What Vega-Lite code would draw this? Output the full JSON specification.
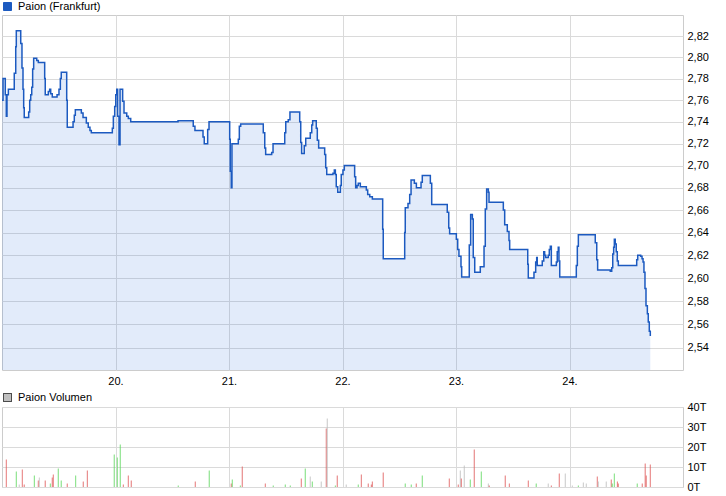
{
  "$schema": "https://vega.github.io/schema/vega-lite/v6.json",
  "background": "white",
  "padding": {"left": -2, "top": 0, "right": 0, "bottom": 0},
  "config": {
    "font": "Liberation Sans",
    "view": {"stroke": "#cccccc", "strokeWidth": 1},
    "axis": {
      "gridColor": "#dadada",
      "gridWidth": 1,
      "domain": false,
      "ticks": false,
      "labelFont": "Liberation Sans",
      "labelFontSize": 11,
      "labelColor": "#000000",
      "title": null
    },
    "legend": {
      "orient": "top",
      "title": null,
      "padding": 0,
      "offset": 2,
      "symbolType": "square",
      "symbolSize": 64,
      "symbolStrokeWidth": 1,
      "labelFont": "Liberation Sans",
      "labelFontSize": 11,
      "labelColor": "#000000",
      "labelOffset": 5
    },
    "concat": {"spacing": 4}
  },
  "datasets": {
    "price": [
      {"t": 19.000, "p": 2.760}, {"t": 19.009, "p": 2.780}, {"t": 19.029, "p": 2.765}, {"t": 19.038, "p": 2.745},
      {"t": 19.044, "p": 2.765}, {"t": 19.056, "p": 2.770}, {"t": 19.108, "p": 2.785}, {"t": 19.121, "p": 2.810},
      {"t": 19.126, "p": 2.825}, {"t": 19.165, "p": 2.813}, {"t": 19.176, "p": 2.790}, {"t": 19.185, "p": 2.770},
      {"t": 19.191, "p": 2.753}, {"t": 19.196, "p": 2.744}, {"t": 19.235, "p": 2.749}, {"t": 19.244, "p": 2.760},
      {"t": 19.253, "p": 2.765}, {"t": 19.262, "p": 2.772}, {"t": 19.270, "p": 2.789}, {"t": 19.279, "p": 2.799},
      {"t": 19.306, "p": 2.797}, {"t": 19.320, "p": 2.795}, {"t": 19.376, "p": 2.780}, {"t": 19.381, "p": 2.765},
      {"t": 19.408, "p": 2.768}, {"t": 19.420, "p": 2.770}, {"t": 19.429, "p": 2.766}, {"t": 19.443, "p": 2.763},
      {"t": 19.485, "p": 2.765}, {"t": 19.502, "p": 2.770}, {"t": 19.514, "p": 2.780}, {"t": 19.522, "p": 2.786},
      {"t": 19.570, "p": 2.760}, {"t": 19.575, "p": 2.735}, {"t": 19.626, "p": 2.740}, {"t": 19.637, "p": 2.746},
      {"t": 19.646, "p": 2.751}, {"t": 19.699, "p": 2.748}, {"t": 19.714, "p": 2.744}, {"t": 19.743, "p": 2.739},
      {"t": 19.760, "p": 2.735}, {"t": 19.775, "p": 2.732}, {"t": 19.787, "p": 2.730}, {"t": 19.972, "p": 2.734},
      {"t": 19.981, "p": 2.745}, {"t": 19.993, "p": 2.754}, {"t": 20.002, "p": 2.765}, {"t": 20.011, "p": 2.770},
      {"t": 20.019, "p": 2.745}, {"t": 20.031, "p": 2.719}, {"t": 20.040, "p": 2.770}, {"t": 20.063, "p": 2.759},
      {"t": 20.075, "p": 2.748}, {"t": 20.099, "p": 2.745}, {"t": 20.113, "p": 2.743}, {"t": 20.134, "p": 2.740},
      {"t": 20.551, "p": 2.741}, {"t": 20.685, "p": 2.736}, {"t": 20.700, "p": 2.732}, {"t": 20.771, "p": 2.726},
      {"t": 20.782, "p": 2.720}, {"t": 20.812, "p": 2.733}, {"t": 20.824, "p": 2.740}, {"t": 21.006, "p": 2.724},
      {"t": 21.011, "p": 2.695}, {"t": 21.020, "p": 2.680}, {"t": 21.026, "p": 2.720}, {"t": 21.082, "p": 2.724},
      {"t": 21.091, "p": 2.736}, {"t": 21.103, "p": 2.738}, {"t": 21.302, "p": 2.730}, {"t": 21.315, "p": 2.716},
      {"t": 21.323, "p": 2.710}, {"t": 21.376, "p": 2.712}, {"t": 21.388, "p": 2.720}, {"t": 21.491, "p": 2.730},
      {"t": 21.500, "p": 2.740}, {"t": 21.522, "p": 2.742}, {"t": 21.537, "p": 2.749}, {"t": 21.623, "p": 2.740},
      {"t": 21.632, "p": 2.721}, {"t": 21.640, "p": 2.711}, {"t": 21.663, "p": 2.718}, {"t": 21.676, "p": 2.725},
      {"t": 21.716, "p": 2.730}, {"t": 21.729, "p": 2.737}, {"t": 21.737, "p": 2.741}, {"t": 21.769, "p": 2.734},
      {"t": 21.778, "p": 2.723}, {"t": 21.790, "p": 2.716}, {"t": 21.843, "p": 2.710}, {"t": 21.852, "p": 2.698},
      {"t": 21.861, "p": 2.692}, {"t": 21.916, "p": 2.693}, {"t": 21.928, "p": 2.696}, {"t": 21.937, "p": 2.692},
      {"t": 21.945, "p": 2.681}, {"t": 21.958, "p": 2.676}, {"t": 21.981, "p": 2.682}, {"t": 21.989, "p": 2.692},
      {"t": 22.004, "p": 2.696}, {"t": 22.016, "p": 2.700}, {"t": 22.107, "p": 2.690}, {"t": 22.116, "p": 2.680},
      {"t": 22.128, "p": 2.682}, {"t": 22.139, "p": 2.684}, {"t": 22.157, "p": 2.681}, {"t": 22.210, "p": 2.678},
      {"t": 22.222, "p": 2.674}, {"t": 22.240, "p": 2.672}, {"t": 22.263, "p": 2.670}, {"t": 22.354, "p": 2.643},
      {"t": 22.359, "p": 2.617}, {"t": 22.548, "p": 2.640}, {"t": 22.553, "p": 2.662}, {"t": 22.577, "p": 2.666},
      {"t": 22.592, "p": 2.674}, {"t": 22.604, "p": 2.687}, {"t": 22.633, "p": 2.684}, {"t": 22.651, "p": 2.680},
      {"t": 22.692, "p": 2.685}, {"t": 22.703, "p": 2.691}, {"t": 22.774, "p": 2.684}, {"t": 22.786, "p": 2.665},
      {"t": 22.923, "p": 2.658}, {"t": 22.936, "p": 2.644}, {"t": 22.944, "p": 2.639}, {"t": 23.003, "p": 2.634},
      {"t": 23.015, "p": 2.625}, {"t": 23.026, "p": 2.619}, {"t": 23.044, "p": 2.610}, {"t": 23.050, "p": 2.601},
      {"t": 23.117, "p": 2.629}, {"t": 23.129, "p": 2.656}, {"t": 23.144, "p": 2.652}, {"t": 23.152, "p": 2.618},
      {"t": 23.165, "p": 2.605}, {"t": 23.214, "p": 2.610}, {"t": 23.247, "p": 2.628}, {"t": 23.258, "p": 2.661},
      {"t": 23.270, "p": 2.679}, {"t": 23.285, "p": 2.676}, {"t": 23.291, "p": 2.667}, {"t": 23.417, "p": 2.660},
      {"t": 23.429, "p": 2.647}, {"t": 23.452, "p": 2.641}, {"t": 23.467, "p": 2.633}, {"t": 23.473, "p": 2.625},
      {"t": 23.632, "p": 2.612}, {"t": 23.637, "p": 2.600}, {"t": 23.687, "p": 2.605}, {"t": 23.702, "p": 2.614},
      {"t": 23.711, "p": 2.618}, {"t": 23.716, "p": 2.611}, {"t": 23.760, "p": 2.615}, {"t": 23.773, "p": 2.623},
      {"t": 23.781, "p": 2.620}, {"t": 23.790, "p": 2.618}, {"t": 23.813, "p": 2.620}, {"t": 23.822, "p": 2.625},
      {"t": 23.831, "p": 2.628}, {"t": 23.840, "p": 2.611}, {"t": 23.884, "p": 2.614}, {"t": 23.892, "p": 2.623},
      {"t": 23.901, "p": 2.627}, {"t": 23.907, "p": 2.615}, {"t": 23.914, "p": 2.601}, {"t": 24.060, "p": 2.611},
      {"t": 24.069, "p": 2.628}, {"t": 24.078, "p": 2.638}, {"t": 24.227, "p": 2.631}, {"t": 24.240, "p": 2.616},
      {"t": 24.248, "p": 2.607}, {"t": 24.359, "p": 2.606}, {"t": 24.372, "p": 2.609}, {"t": 24.381, "p": 2.621},
      {"t": 24.389, "p": 2.627}, {"t": 24.395, "p": 2.634}, {"t": 24.403, "p": 2.630}, {"t": 24.412, "p": 2.623},
      {"t": 24.421, "p": 2.615}, {"t": 24.430, "p": 2.611}, {"t": 24.592, "p": 2.616}, {"t": 24.601, "p": 2.620},
      {"t": 24.627, "p": 2.619}, {"t": 24.639, "p": 2.617}, {"t": 24.648, "p": 2.614}, {"t": 24.656, "p": 2.605},
      {"t": 24.665, "p": 2.591}, {"t": 24.674, "p": 2.576}, {"t": 24.686, "p": 2.569}, {"t": 24.694, "p": 2.562},
      {"t": 24.703, "p": 2.554}, {"t": 24.712, "p": 2.550}
    ],
    "volume": [
      {"t": 19.038, "v": 13.7, "d": "-"}, {"t": 19.126, "v": 7.7, "d": "+"}, {"t": 19.152, "v": 1.2, "d": "="},
      {"t": 19.179, "v": 8.7, "d": "-"}, {"t": 19.196, "v": 1.2, "d": "-"}, {"t": 19.285, "v": 5.7, "d": "+"},
      {"t": 19.320, "v": 3.2, "d": "-"}, {"t": 19.329, "v": 4.7, "d": "="}, {"t": 19.381, "v": 3.2, "d": "-"},
      {"t": 19.426, "v": 1.7, "d": "+"}, {"t": 19.443, "v": 4.7, "d": "-"}, {"t": 19.452, "v": 6.2, "d": "-"},
      {"t": 19.496, "v": 9.2, "d": "+"}, {"t": 19.522, "v": 3.2, "d": "+"}, {"t": 19.575, "v": 1.7, "d": "-"},
      {"t": 19.649, "v": 5.7, "d": "+"}, {"t": 19.716, "v": 2.7, "d": "-"}, {"t": 19.752, "v": 8.2, "d": "-"},
      {"t": 19.989, "v": 16.2, "d": "+"}, {"t": 20.016, "v": 14.7, "d": "+"}, {"t": 20.042, "v": 21.2, "d": "+"},
      {"t": 20.069, "v": 1.2, "d": "-"}, {"t": 20.113, "v": 5.7, "d": "-"}, {"t": 20.139, "v": 3.2, "d": "-"},
      {"t": 20.553, "v": 0.7, "d": "+"}, {"t": 20.703, "v": 2.7, "d": "-"}, {"t": 20.826, "v": 8.2, "d": "+"},
      {"t": 21.020, "v": 1.7, "d": "-"}, {"t": 21.029, "v": 3.7, "d": "+"}, {"t": 21.100, "v": 0.7, "d": "+"},
      {"t": 21.117, "v": 10.2, "d": "-"}, {"t": 21.320, "v": 1.7, "d": "-"}, {"t": 21.390, "v": 0.7, "d": "+"},
      {"t": 21.496, "v": 1.2, "d": "+"}, {"t": 21.540, "v": 0.7, "d": "+"}, {"t": 21.637, "v": 4.2, "d": "-"},
      {"t": 21.672, "v": 9.2, "d": "+"}, {"t": 21.716, "v": 5.2, "d": "="}, {"t": 21.734, "v": 2.7, "d": "+"},
      {"t": 21.813, "v": 2.7, "d": "="}, {"t": 21.857, "v": 29.2, "d": "-"}, {"t": 21.866, "v": 34.2, "d": "="},
      {"t": 21.937, "v": 0.7, "d": "+"}, {"t": 21.954, "v": 5.7, "d": "-"}, {"t": 22.033, "v": 1.2, "d": "="},
      {"t": 22.139, "v": 1.2, "d": "+"}, {"t": 22.166, "v": 6.2, "d": "-"}, {"t": 22.227, "v": 1.7, "d": "-"},
      {"t": 22.254, "v": 1.2, "d": "-"}, {"t": 22.263, "v": 2.7, "d": "-"}, {"t": 22.359, "v": 7.2, "d": "-"},
      {"t": 22.553, "v": 1.7, "d": "+"}, {"t": 22.606, "v": 1.2, "d": "+"}, {"t": 22.650, "v": 1.7, "d": "-"},
      {"t": 22.703, "v": 5.7, "d": "+"}, {"t": 22.941, "v": 4.2, "d": "-"}, {"t": 23.020, "v": 1.2, "d": "-"},
      {"t": 23.038, "v": 8.2, "d": "="}, {"t": 23.047, "v": 4.2, "d": "-"}, {"t": 23.073, "v": 10.7, "d": "="},
      {"t": 23.126, "v": 3.7, "d": "+"}, {"t": 23.161, "v": 18.7, "d": "-"}, {"t": 23.223, "v": 7.7, "d": "+"},
      {"t": 23.285, "v": 1.7, "d": "="}, {"t": 23.293, "v": 0.7, "d": "-"}, {"t": 23.434, "v": 5.7, "d": "-"},
      {"t": 23.470, "v": 1.7, "d": "-"}, {"t": 23.637, "v": 3.2, "d": "-"}, {"t": 23.707, "v": 1.7, "d": "+"},
      {"t": 23.813, "v": 1.7, "d": "="}, {"t": 23.840, "v": 0.7, "d": "-"}, {"t": 23.910, "v": 6.7, "d": "-"},
      {"t": 23.963, "v": 6.7, "d": "="}, {"t": 24.025, "v": 0.7, "d": "="}, {"t": 24.078, "v": 0.7, "d": "+"},
      {"t": 24.122, "v": 2.2, "d": "="}, {"t": 24.148, "v": 1.7, "d": "="}, {"t": 24.245, "v": 5.2, "d": "-"},
      {"t": 24.254, "v": 2.7, "d": "="}, {"t": 24.324, "v": 2.7, "d": "="}, {"t": 24.368, "v": 3.7, "d": "-"},
      {"t": 24.377, "v": 1.7, "d": "+"}, {"t": 24.395, "v": 6.7, "d": "+"}, {"t": 24.422, "v": 2.7, "d": "-"},
      {"t": 24.430, "v": 1.7, "d": "-"}, {"t": 24.597, "v": 1.7, "d": "+"}, {"t": 24.641, "v": 1.7, "d": "-"},
      {"t": 24.667, "v": 11.7, "d": "-"}, {"t": 24.676, "v": 5.7, "d": "-"}, {"t": 24.712, "v": 11.2, "d": "-"}
    ]
  },
  "vconcat": [
    {
      "width": 681,
      "height": 355,
      "data": {"name": "price"},
      "encoding": {
        "x": {
          "field": "t",
          "type": "quantitative",
          "scale": {"domain": [19, 25], "nice": false, "zero": false},
          "axis": {"values": [20, 21, 22, 23, 24], "labelExpr": "datum.value + '.'", "labelPadding": 5, "grid": true}
        },
        "y": {
          "field": "p",
          "type": "quantitative",
          "scale": {"type": "log", "domain": [2.521, 2.84], "nice": false},
          "axis": {
            "orient": "right",
            "values": [2.54, 2.56, 2.58, 2.6, 2.62, 2.64, 2.66, 2.68, 2.7, 2.72, 2.74, 2.76, 2.78, 2.8, 2.82],
            "labelExpr": "replace(format(datum.value, '.2f'), '.', ',')",
            "labelPadding": 4,
            "grid": true
          }
        }
      },
      "layer": [
        {
          "mark": {"type": "area", "interpolate": "step-after", "color": "#3c78dc", "opacity": 0.15},
          "encoding": {"y2": {"datum": 2.521}}
        },
        {
          "mark": {"type": "line", "interpolate": "step-after", "strokeWidth": 1.5},
          "encoding": {
            "stroke": {
              "datum": "Paion (Frankfurt)",
              "type": "nominal",
              "scale": {"range": ["#1c5ac0"]},
              "legend": {
                "encode": {"symbols": {"update": {"fill": {"value": "#1c5ac0"}, "stroke": {"value": "#1a1a1a"}, "opacity": {"value": 1}}}}
              }
            }
          }
        }
      ]
    },
    {
      "width": 681,
      "height": 80,
      "data": {"name": "volume"},
      "mark": {"type": "rule", "strokeWidth": 1},
      "encoding": {
        "x": {
          "field": "t",
          "type": "quantitative",
          "scale": {"domain": [19, 25], "nice": false, "zero": false},
          "axis": {"values": [20, 21, 22, 23, 24], "labels": false, "grid": true}
        },
        "y": {
          "field": "v",
          "type": "quantitative",
          "scale": {"domain": [0, 40], "nice": false},
          "axis": {"orient": "right", "values": [0, 10, 20, 30, 40], "labelExpr": "datum.value + 'T'", "labelPadding": 4, "grid": true}
        },
        "y2": {"datum": 0},
        "stroke": {
          "field": "d",
          "type": "nominal",
          "scale": {"domain": ["+", "-", "="], "range": ["#5fd75f", "#df5b5b", "#bdbdbd"]},
          "legend": null
        },
        "strokeDash": {
          "datum": "Paion Volumen",
          "type": "nominal",
          "scale": {"range": [[1, 0]]},
          "legend": {
            "offset": 3,
            "encode": {"symbols": {"update": {"fill": {"value": "#c0c0c0"}, "stroke": {"value": "#1a1a1a"}, "strokeDash": {"value": [1, 0]}, "opacity": {"value": 1}}}}
          }
        }
      }
    }
  ],
  "resolve": {"scale": {"x": "independent", "y": "independent", "stroke": "independent", "strokeDash": "independent"}, "legend": {"stroke": "independent", "strokeDash": "independent"}}
}
